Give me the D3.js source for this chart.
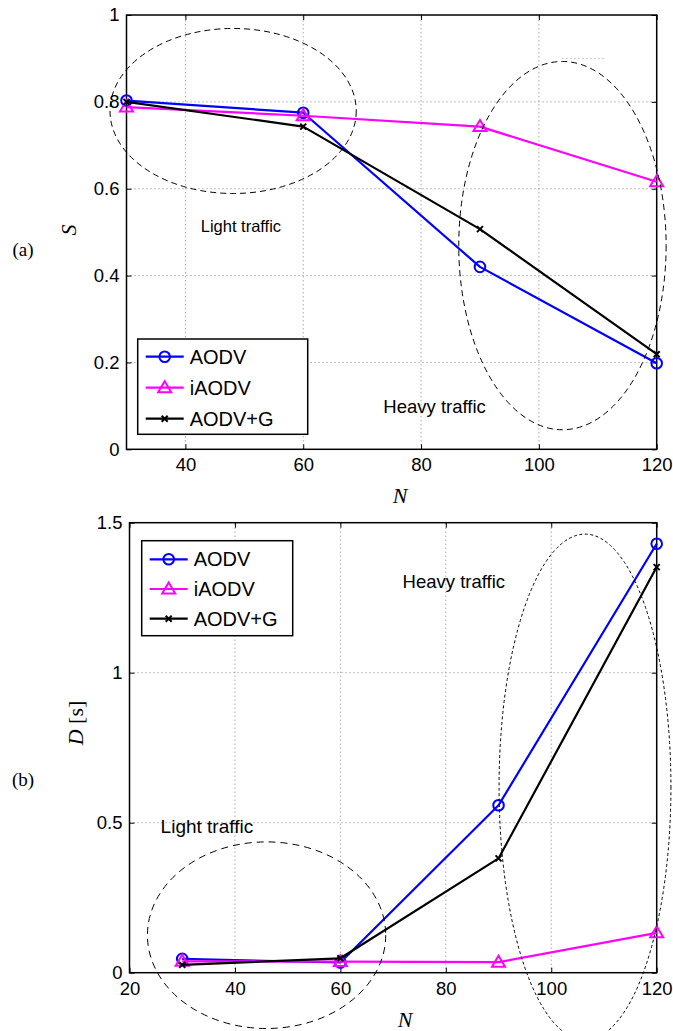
<!DOCTYPE html>
<html><head><meta charset="utf-8">
<script src="https://cdn.jsdelivr.net/npm/d3@7"></script>
<style>
html,body{margin:0;padding:0;background:#fff;}
svg{display:block;}
</style></head>
<body>
<svg id="chart" width="673" height="1031"></svg>
<script>
// ---------- DATA ----------
const seriesNames = ["AODV", "iAODV", "AODV+G"];
const nodesA = [30, 60, 90, 120];
const sAODV  = [0.803, 0.775, 0.420, 0.198];
const sIAODV = [0.788, 0.768, 0.743, 0.616];
const sAODVG = [0.800, 0.743, 0.507, 0.219];

const nodesB = [30, 60, 90, 120];
const dAODV  = [0.046, 0.034, 0.558, 1.430];
const dIAODV = [0.038, 0.037, 0.035, 0.133];
const dAODVG = [0.026, 0.048, 0.381, 1.352];

const xTicksA = [40, 60, 80, 100, 120];
const yTicksA = [0, 0.2, 0.4, 0.6, 0.8, 1];
const xTicksB = [20, 40, 60, 80, 100, 120];
const yTicksB = [0, 0.5, 1, 1.5];

// ellipse annotations in data units: [cx, cy, rx, ry]
const ellipsesA = [[48.1, 0.779, 20.9, 0.190], [104.0, 0.469, 17.6, 0.424]];
const ellipsesB = [[46.0, 0.125, 22.6, 0.311], [106.4, 0.619, 16.3, 0.843]];
const labelsA = [["Light traffic", 42.6, 0.500], ["Heavy traffic", 73.6, 0.083]];
const labelsB = [["Heavy traffic", 71.8, 1.283], ["Light traffic", 25.9, 0.467]];

const colors = ["#0000ff", "#ff00ff", "#000000"];
const markers = ["circle", "triangle", "x"];

// ---------- DRAW ----------
const svg = d3.select("#chart");
const SANS = "'Liberation Sans', Arial, Helvetica, sans-serif";
const SERIF = "'Liberation Serif', 'Times New Roman', serif";

function drawMarker(g, type, x, y, color) {
  if (type === "circle") {
    g.append("circle").attr("cx", x).attr("cy", y).attr("r", 5.3)
      .attr("fill", "none").attr("stroke", color).attr("stroke-width", 2);
  } else if (type === "triangle") {
    g.append("path").attr("d", `M${x},${y-6.5}L${x+6.5},${y+4.5}L${x-6.5},${y+4.5}Z`)
      .attr("fill", "none").attr("stroke", color).attr("stroke-width", 2).attr("stroke-linejoin","miter");
  } else {
    g.append("path").attr("d", `M${x-3},${y-3}L${x+3},${y+3}M${x-3},${y+3}L${x+3},${y-3}`)
      .attr("stroke", color).attr("stroke-width", 2);
  }
}

function panel(opts) {
  const {x, y, xTicks, yTicks, series, nodes, ellipses, labels, legend, dashes, yFmt} = opts;
  const g = svg.append("g");
  const [x0, x1] = x.range();
  const [y0, y1] = y.range();

  // grid
  const grid = g.append("g").attr("stroke", "#808080").attr("stroke-width", 1)
    .attr("stroke-dasharray", "1,3");
  xTicks.forEach(t => {
    const px = x(t);
    if (Math.abs(px - x0) > 1 && Math.abs(px - x1) > 1)
      grid.append("line").attr("x1", px).attr("x2", px).attr("y1", y0).attr("y2", y1);
  });
  yTicks.forEach(t => {
    const py = y(t);
    if (Math.abs(py - y0) > 1 && Math.abs(py - y1) > 1)
      grid.append("line").attr("x1", x0).attr("x2", x1).attr("y1", py).attr("y2", py);
  });

  // axes via d3 axis (inward ticks)
  const axB = d3.axisBottom(x).tickValues(xTicks).tickSize(-5).tickPadding(9).tickFormat(d3.format("d"));
  const axL = d3.axisLeft(y).tickValues(yTicks).tickSize(-5).tickPadding(7).tickFormat(yFmt);
  const axT = d3.axisTop(x).tickValues(xTicks).tickSize(-5).tickFormat("");
  const axR = d3.axisRight(y).tickValues(yTicks).tickSize(-5).tickFormat("");
  const gb = g.append("g").attr("transform", `translate(0,${y0})`).call(axB);
  const gl = g.append("g").attr("transform", `translate(${x0},0)`).call(axL);
  const gt = g.append("g").attr("transform", `translate(0,${y1})`).call(axT);
  const gr = g.append("g").attr("transform", `translate(${x1},0)`).call(axR);
  [gb, gl, gt, gr].forEach(a => {
    a.select(".domain").remove();
    a.selectAll("line").attr("stroke", "#000").attr("stroke-width", 1);
    a.selectAll("text").attr("font-family", SANS).attr("font-size", 18.5).attr("fill", "#000");
  });
  g.append("rect").attr("x", x0).attr("y", y1).attr("width", x1 - x0).attr("height", y0 - y1)
    .attr("fill", "none").attr("stroke", "#000").attr("stroke-width", 1.5);

  // series
  const line = d3.line().x(d => x(d[0])).y(d => y(d[1]));
  series.forEach((vals, i) => {
    const pts = nodes.map((n, j) => [n, vals[j]]);
    g.append("path").attr("d", line(pts)).attr("fill", "none")
      .attr("stroke", colors[i]).attr("stroke-width", 2.2).attr("stroke-linejoin", "round");
    pts.forEach(p => drawMarker(g, markers[i], x(p[0]), y(p[1]), colors[i]));
  });

  // ellipses
  ellipses.forEach((e, i) => {
    g.append("ellipse").attr("cx", x(e[0])).attr("cy", y(e[1]))
      .attr("rx", Math.abs(x(e[0] + e[2]) - x(e[0]))).attr("ry", Math.abs(y(e[1] + e[3]) - y(e[1])))
      .attr("fill", "none").attr("stroke", "#000").attr("stroke-width", 1)
      .attr("stroke-dasharray", dashes[i]);
  });

  // labels
  labels.forEach(l => {
    g.append("text").attr("x", x(l[1])).attr("y", y(l[2])).text(l[0])
      .attr("font-family", SANS).attr("font-size", l[3] || 18.5).attr("fill", "#000");
  });

  // legend
  const lg = g.append("g");
  lg.append("rect").attr("x", legend.x).attr("y", legend.y).attr("width", legend.w).attr("height", legend.h)
    .attr("fill", "#fff").attr("stroke", "#000").attr("stroke-width", 1.5);
  seriesNames.forEach((name, i) => {
    const ly = legend.y + legend.first + i * legend.step;
    lg.append("line").attr("x1", legend.x + 8).attr("x2", legend.x + 46).attr("y1", ly).attr("y2", ly)
      .attr("stroke", colors[i]).attr("stroke-width", 2.2);
    drawMarker(lg, markers[i], legend.x + 27, ly, colors[i]);
    lg.append("text").attr("x", legend.x + 52).attr("y", ly + 7).text(name)
      .attr("font-family", SANS).attr("font-size", 20).attr("fill", "#000");
  });
  return g;
}

// Panel (a)
const xA = d3.scaleLinear().domain([30, 120]).range([126.5, 656.7]);
const yA = d3.scaleLinear().domain([0, 1]).range([449.3, 15]);
const labelsAfs = [[...labelsA[0], 16.5], [...labelsA[1], 18.5]];
const gA = panel({
  x: xA, y: yA, xTicks: xTicksA, yTicks: yTicksA, nodes: nodesA,
  series: [sAODV, sIAODV, sAODVG], ellipses: ellipsesA, labels: labelsAfs,
  dashes: ["6,4", "6,4"], yFmt: d => d === 0 ? "0" : (d === 1 ? "1" : d3.format(".1f")(d)),
  legend: {x: 137.7, y: 339, w: 170, h: 95.3, first: 17.7, step: 31}
});
// dotted artifact segment near top of heavy ellipse
gA.append("line").attr("x1", xA(104)).attr("x2", xA(111.4)).attr("y1", yA(0.9)).attr("y2", yA(0.9))
  .attr("stroke", "#999").attr("stroke-width", 1).attr("stroke-dasharray", "1,3");

// Panel (b)
const xB = d3.scaleLinear().domain([20, 120]).range([129.5, 656.7]);
const yB = d3.scaleLinear().domain([0, 1.5]).range([972.7, 522.7]);
const labelsBfs = [[...labelsB[0], 18.5], [...labelsB[1], 19]];
panel({
  x: xB, y: yB, xTicks: xTicksB, yTicks: yTicksB, nodes: nodesB,
  series: [dAODV, dIAODV, dAODVG], ellipses: ellipsesB, labels: labelsBfs,
  dashes: ["7,5", "3,2.5"], yFmt: d => d === 0 ? "0" : (Number.isInteger(d) ? String(d) : d3.format(".1f")(d)),
  legend: {x: 141.7, y: 540.7, w: 151, h: 95, first: 18.6, step: 29.7}
});

// Axis titles
svg.append("text").attr("transform", "translate(76,230) rotate(-90)").attr("text-anchor", "middle")
  .attr("font-family", SERIF).attr("font-style", "italic").attr("font-size", 22).text("S");
svg.append("text").attr("x", 400).attr("y", 503).attr("text-anchor", "middle")
  .attr("font-family", SERIF).attr("font-style", "italic").attr("font-size", 22).text("N");
const dl = svg.append("text").attr("transform", "translate(83,723) rotate(-90)").attr("text-anchor", "middle")
  .attr("font-family", SERIF).attr("font-size", 22);
dl.append("tspan").attr("font-style", "italic").text("D");
dl.append("tspan").text(" [s]");
svg.append("text").attr("x", 405).attr("y", 1027).attr("text-anchor", "middle")
  .attr("font-family", SERIF).attr("font-style", "italic").attr("font-size", 22).text("N");

// panel tags
svg.append("text").attr("x", 23).attr("y", 256).attr("text-anchor", "middle")
  .attr("font-family", SERIF).attr("font-size", 19).text("(a)");
svg.append("text").attr("x", 23).attr("y", 786).attr("text-anchor", "middle")
  .attr("font-family", SERIF).attr("font-size", 19).text("(b)");
</script>
</body></html>
